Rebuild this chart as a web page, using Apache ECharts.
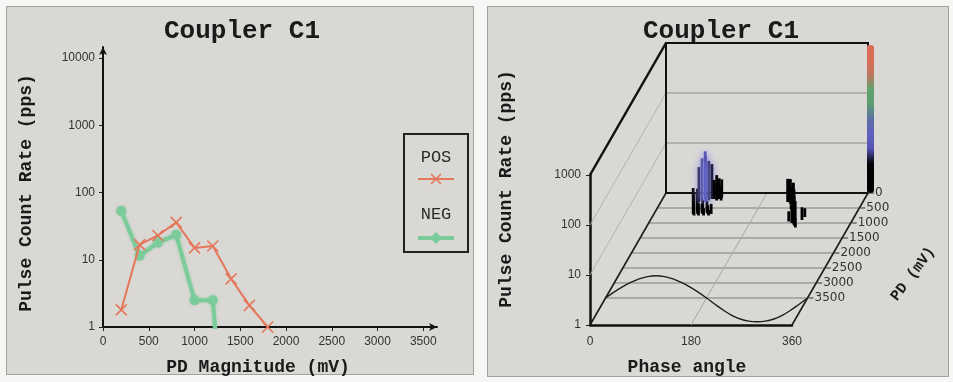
<!DOCTYPE html>
<html>
<head>
<meta charset="utf-8">
<script src="https://cdn.jsdelivr.net/npm/echarts@6/dist/echarts.min.js"></script>
<style>
  html, body { margin: 0; padding: 0; background: #f6f6f4; }
  #wrap { position: relative; width: 953px; height: 382px; overflow: hidden; }
  .panel { position: absolute; background: #dad8d4; border: 1px solid #a2a2a0; box-sizing: border-box; }
  #chart { position: absolute; left: 0; top: 0; width: 953px; height: 382px; }
</style>
</head>
<body>
<div id="wrap">
  <div class="panel" style="left:6px;top:6px;width:468px;height:369px;"></div>
  <div class="panel" style="left:487px;top:6px;width:462px;height:371px;"></div>
  <div id="chart"></div>
</div>
<script>
// ---- PD magnitude distribution (left panel) ----
const pdMagnitudes = [200, 400, 600, 800, 1000, 1200, 1400, 1600, 1800];
const posRate      = [1.8, 16.8, 23, 36, 15, 16, 5.2, 2.1, 1.0];
const negMagnitudes = [200, 400, 600, 800, 1000, 1200, 1400];
const negRate       = [53, 11.5, 18, 23.5, 2.5, 2.5, 0.001];
const magnitudeTicks = [0, 500, 1000, 1500, 2000, 2500, 3000, 3500];
const rateTicks = [1, 10, 100, 1000, 10000];

// ---- Phase-resolved PD pattern (right panel) ----
const phaseTicks = [0, 180, 360];
const prpdRateTicks = [1, 10, 100, 1000];
const pdDepthTicks = [0, 500, 1000, 1500, 2000, 2500, 3000, 3500];
const pdDepthMax = 4400;
const refWaveDepth = 3500;

// pulse clusters: phase (deg), PD magnitude (mV), pulse count rate (pps)
const prpdPhase = [70, 73, 76,
                   78, 81, 84, 87, 90, 93, 96, 99, 102,
                   68, 72, 76, 80, 84, 88,
                   92, 95, 98, 101, 104, 106,
                   226, 229, 232, 236, 239, 242, 240, 244, 247, 250,
                   252, 255, 258, 255, 260, 263, 266, 248, 270, 272];
const prpdPD    = [700, 750, 650,
                   700, 750, 650, 700, 750, 650, 700, 750, 700,
                   300, 250, 200, 300, 250, 200,
                   200, 150, 250, 200, 150, 250,
                   300, 250, 350, 300, 400, 450, 550, 600, 650, 700,
                   800, 850, 900, 1000, 1050, 1100, 1150, 950, 900, 800];
const prpdCount = [3.3, 2.9, 3.0,
                   1.6, 1.8, 1.5, 1.9, 1.4, 1.7, 1.5, 1.3, 1.6,
                   5.0, 7.0, 9.0, 8.2, 6.2, 5.0,
                   2.4, 2.8, 2.2, 2.6, 2.3, 2.0,
                   2.9, 2.6, 3.1, 2.4, 2.8, 2.2, 2.9, 2.5, 3.0, 2.3,
                   2.7, 2.0, 2.4, 1.9, 2.2, 1.7, 1.5, 1.6, 1.8, 1.5];

// reference supply waveform, drawn on the PD = 3500 plane
const refPhase = [0, 15, 30, 45, 60, 75, 90, 105, 120, 135, 150, 165, 180,
                  195, 210, 225, 240, 255, 270, 285, 300, 315, 330, 345, 360];
const refLevel = [1, 1.31, 1.67, 2.05, 2.42, 2.68, 2.78, 2.68, 2.42, 2.05, 1.67, 1.31, 1,
                  0.75, 0.57, 0.45, 0.38, 0.345, 0.335, 0.345, 0.38, 0.45, 0.57, 0.75, 1];

const pdColorScale = ['#000000', '#000000', '#050508', '#5554b2', '#6060bc', '#5b70a4',
                      '#5c9c74', '#60a46e', '#c0765c', '#d86c58', '#da6a56'];

// oblique projection of the depth (PD) axis
const DEPTH_DX = 76, DEPTH_DY = -132;
function proj(api, phase, val, pd) {
  const p = api.coord([phase, val]);
  const k = (pdDepthMax - pd) / pdDepthMax;
  return [p[0] + DEPTH_DX * k, p[1] + DEPTH_DY * k];
}

const labelFont = '12px "DejaVu Sans", sans-serif';
const titleFont = 'bold 26px "Liberation Mono", monospace';
const nameFont = 'bold 18px "Liberation Mono", monospace';
const noCommas = v => String(Math.round(v));

function renderFrame(params, api) {
  const children = [];
  const seg = (a, b, stroke, w) => children.push({
    type: 'line', shape: { x1: a[0], y1: a[1], x2: b[0], y2: b[1] },
    style: { stroke: stroke, lineWidth: w }
  });
  const P = (ph, v, pd) => proj(api, ph, v, pd);
  const vMin = prpdRateTicks[0], vMax = prpdRateTicks[prpdRateTicks.length - 1];
  const phMin = phaseTicks[0], phMax = phaseTicks[phaseTicks.length - 1];

  // decade lines on back and left walls
  prpdRateTicks.slice(1, -1).forEach(v => {
    seg(P(phMin, v, 0), P(phMax, v, 0), '#8a8a8a', 1);
    seg(P(phMin, v, pdDepthMax), P(phMin, v, 0), '#b2b2b0', 1);
  });
  // PD lines across the floor, with ticks and labels
  pdDepthTicks.forEach(pd => {
    const a = P(phMin, vMin, pd), b = P(phMax, vMin, pd);
    seg(a, b, '#7c7c7c', 1);
    seg([b[0] + 1, b[1]], [b[0] + 6, b[1]], '#333', 1);
    children.push({
      type: 'text', x: b[0] + 7, y: b[1],
      style: { text: String(pd), font: labelFont, fill: '#333', align: 'left', verticalAlign: 'middle' }
    });
  });
  // phase line across the floor
  seg(P(phaseTicks[1], vMin, pdDepthMax), P(phaseTicks[1], vMin, 0), '#a6a6a4', 1);
  // floor side edges
  seg(P(phMin, vMin, pdDepthMax), P(phMin, vMin, 0), '#1c1c1c', 1.6);
  seg(P(phMax, vMin, pdDepthMax), P(phMax, vMin, 0), '#1c1c1c', 1.6);
  // back wall outline
  const bl = P(phMin, vMin, 0), tr = P(phMax, vMax, 0);
  children.push({
    type: 'rect', shape: { x: bl[0], y: tr[1], width: tr[0] - bl[0], height: bl[1] - tr[1] },
    style: { fill: 'none', stroke: '#111', lineWidth: 2 }
  });
  // top edge of the left wall
  seg(P(phMin, vMax, pdDepthMax), P(phMin, vMax, 0), '#111', 2.5);
  return { type: 'group', children: children };
}

function renderWave(params, api) {
  if (params.dataIndex !== 0) return null;
  const pts = refPhase.map((ph, i) => proj(api, ph, refLevel[i], refWaveDepth));
  return {
    type: 'polyline', shape: { points: pts, smooth: 0.35 },
    style: { fill: 'none', stroke: '#1e1e1e', lineWidth: 1.4 }
  };
}

function renderPulse(params, api) {
  const ph = api.value(0), pd = api.value(1), c = api.value(2);
  const a = proj(api, ph, prpdRateTicks[0], pd), b = proj(api, ph, c, pd);
  const color = api.visual('color');
  const bright = api.value(3) > 0.65;
  return {
    type: 'line', shape: { x1: a[0], y1: a[1], x2: b[0], y2: b[1] },
    style: {
      stroke: color, lineWidth: 2.8,
      shadowBlur: bright ? 7 : 0, shadowColor: bright ? 'rgba(140,140,240,0.85)' : 'transparent'
    }
  };
}

const pulseData = prpdPhase.map((p, i) => [p, prpdPD[i], prpdCount[i], Math.log10(prpdCount[i])]);

const chart = echarts.init(document.getElementById('chart'), null, { renderer: 'canvas' });
chart.setOption({
  backgroundColor: 'transparent',
  animation: false,
  grid: [
    { left: 103, top: 47, right: 516, bottom: 55 },
    { left: 590, top: 175, right: 161, bottom: 57 }
  ],
  xAxis: [
    {
      gridIndex: 0, type: 'value', min: 0, max: 3650,
      axisLine: { show: true, lineStyle: { color: '#111', width: 2 }, symbol: ['none', 'arrow'], symbolSize: [6, 8] },
      axisTick: { show: true, length: 4, lineStyle: { color: '#222' }, customValues: magnitudeTicks },
      axisLabel: { customValues: magnitudeTicks, formatter: noCommas, font: labelFont, color: '#333', margin: 9 },
      splitLine: { show: false }
    },
    {
      gridIndex: 1, type: 'value', min: phaseTicks[0], max: phaseTicks[2], interval: 180,
      axisLine: { show: true, lineStyle: { color: '#111', width: 2.5 } },
      axisTick: { show: false },
      axisLabel: { formatter: noCommas, font: labelFont, color: '#333', margin: 11 },
      splitLine: { show: false }
    }
  ],
  yAxis: [
    {
      gridIndex: 0, type: 'log', logBase: 10, min: 1, max: 14600,
      axisLine: { show: true, lineStyle: { color: '#111', width: 2 }, symbol: ['none', 'arrow'], symbolSize: [6, 8] },
      axisTick: { show: true, length: 4, lineStyle: { color: '#222' }, customValues: rateTicks },
      axisLabel: { customValues: rateTicks, formatter: noCommas, font: labelFont, color: '#333', margin: 8 },
      splitLine: { show: false }, minorTick: { show: false }
    },
    {
      gridIndex: 1, type: 'log', logBase: 10, min: 1, max: 1000,
      axisLine: { show: true, lineStyle: { color: '#111', width: 2.5 } },
      axisTick: { show: true, length: 4, lineStyle: { color: '#222' }, customValues: prpdRateTicks },
      axisLabel: { customValues: prpdRateTicks, formatter: noCommas, font: labelFont, color: '#333', margin: 9 },
      splitLine: { show: false }
    }
  ],
  visualMap: {
    type: 'continuous', seriesIndex: 4, dimension: 3, min: 0, max: 3,
    inRange: { color: pdColorScale },
    left: 867, top: 45, itemWidth: 7, itemHeight: 148, padding: 0,
    text: null, calculable: false, hoverLink: false
  },
  series: [
    {
      name: 'POS', type: 'line', xAxisIndex: 0, yAxisIndex: 0,
      data: pdMagnitudes.map((x, i) => [x, posRate[i]]),
      lineStyle: { color: '#e5775a', width: 2 },
      symbol: 'path://M0,0L10,10M10,0L0,10', symbolSize: 11,
      itemStyle: { color: '#e5775a', borderColor: '#e5775a', borderWidth: 1.6 },
      z: 4
    },
    {
      name: 'NEG', type: 'line', xAxisIndex: 0, yAxisIndex: 0,
      data: negMagnitudes.map((x, i) => [x, negRate[i]]),
      lineStyle: { color: '#7ccb9a', width: 4, shadowBlur: 3, shadowColor: 'rgba(116,199,149,0.6)' },
      symbol: 'circle', symbolSize: 10,
      itemStyle: { color: '#7ccb9a', shadowBlur: 3, shadowColor: 'rgba(116,199,149,0.6)' },
      z: 3
    },
    {
      type: 'custom', xAxisIndex: 1, yAxisIndex: 1, data: [[0, 1]],
      renderItem: renderFrame, silent: true, z: 1
    },
    {
      type: 'custom', xAxisIndex: 1, yAxisIndex: 1,
      data: refPhase.map((p, i) => [p, refLevel[i]]),
      renderItem: renderWave, silent: true, z: 2
    },
    {
      type: 'custom', xAxisIndex: 1, yAxisIndex: 1,
      data: pulseData, dimensions: ['phase', 'pd', 'rate', 'logRate'],
      encode: { x: 0, y: 2 },
      renderItem: renderPulse, silent: true, z: 3
    }
  ],
  graphic: [
    // titles
    { type: 'text', x: 242, y: 31, style: { text: 'Coupler C1', font: titleFont, fill: '#1a1a1a', align: 'center', verticalAlign: 'middle' } },
    { type: 'text', x: 721, y: 31, style: { text: 'Coupler C1', font: titleFont, fill: '#1a1a1a', align: 'center', verticalAlign: 'middle' } },
    // axis names
    { type: 'text', x: 26, y: 193, rotation: Math.PI / 2, style: { text: 'Pulse Count Rate (pps)', font: nameFont, fill: '#1a1a1a', align: 'center', verticalAlign: 'middle' } },
    { type: 'text', x: 258, y: 367, style: { text: 'PD Magnitude (mV)', font: nameFont, fill: '#1a1a1a', align: 'center', verticalAlign: 'middle' } },
    { type: 'text', x: 506, y: 189, rotation: Math.PI / 2, style: { text: 'Pulse Count Rate (pps)', font: nameFont, fill: '#1a1a1a', align: 'center', verticalAlign: 'middle' } },
    { type: 'text', x: 687, y: 367, style: { text: 'Phase angle', font: nameFont, fill: '#1a1a1a', align: 'center', verticalAlign: 'middle' } },
    { type: 'text', x: 913, y: 274, rotation: 53 * Math.PI / 180, style: { text: 'PD (mV)', font: 'bold 15px "Liberation Mono", monospace', fill: '#1a1a1a', align: 'center', verticalAlign: 'middle' } },
    // legend box
    { type: 'rect', shape: { x: 404, y: 134, width: 64, height: 118 }, style: { fill: 'none', stroke: '#222', lineWidth: 2 } },
    { type: 'text', x: 436, y: 157, style: { text: 'POS', font: '17px "Liberation Mono", monospace', fill: '#2a2a2a', align: 'center', verticalAlign: 'middle' } },
    { type: 'line', shape: { x1: 418, y1: 179, x2: 454, y2: 179 }, style: { stroke: '#e5775a', lineWidth: 2 } },
    { type: 'polyline', shape: { points: [[431, 174], [441, 184]] }, style: { stroke: '#e5775a', lineWidth: 1.6 } },
    { type: 'polyline', shape: { points: [[441, 174], [431, 184]] }, style: { stroke: '#e5775a', lineWidth: 1.6 } },
    { type: 'text', x: 436, y: 214, style: { text: 'NEG', font: '17px "Liberation Mono", monospace', fill: '#2a2a2a', align: 'center', verticalAlign: 'middle' } },
    { type: 'line', shape: { x1: 418, y1: 238, x2: 454, y2: 238 }, style: { stroke: '#7ccb9a', lineWidth: 4 } },
    { type: 'polygon', shape: { points: [[436, 232], [442, 238], [436, 244], [430, 238]] }, style: { fill: '#7ccb9a' } }
  ]
});
</script>
</body>
</html>
